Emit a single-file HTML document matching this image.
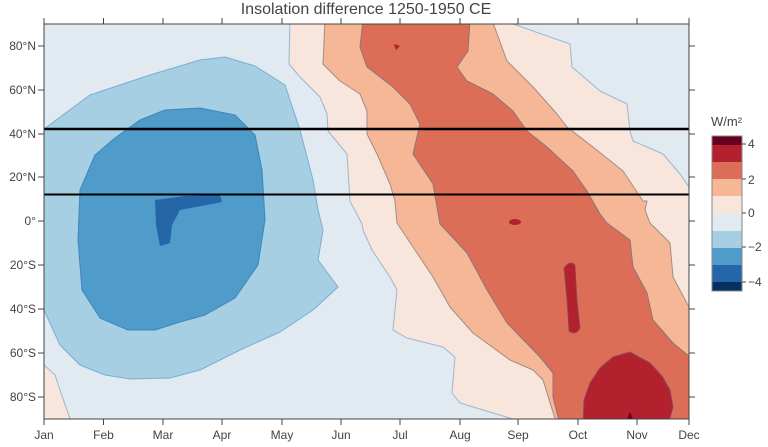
<!DOCTYPE html>
<html><head><meta charset="utf-8"><style>
body{margin:0;background:#fff;}
svg{display:block;font-family:"Liberation Sans",sans-serif;}
</style></head><body>
<svg width="768" height="447" viewBox="0 0 768 447">
<defs><clipPath id="c"><rect x="44" y="24" width="645" height="395"/></clipPath></defs>
<text x="366" y="14" text-anchor="middle" font-size="16" fill="#444">Insolation difference 1250-1950 CE</text>
<g clip-path="url(#c)" stroke-linejoin="round">
<rect x="44" y="24" width="645" height="395" fill="#e1e9f1"/>
<!-- bottom-left pink -->
<path d="M44,365 L55,375 L60,390 L70,419 L40,419 Z" fill="#f8e6dc" stroke="#9ab7cf" stroke-width="1"/>
<!-- light blue -->
<path d="M40,132 L90,95 L150,75 L200,60 L225,57 L255,66 L285,85 L300,130 L313,180 L318,210 L323,230 L318,260 L338,287 L313,310 L280,332 L240,350 L200,370 L170,378 L130,379 L105,375 L80,365 L60,345 L44,310 L40,310 Z" fill="#a7cfe3" stroke="#7aaed0" stroke-width="1"/>
<!-- medium blue -->
<path d="M80,190 L95,155 L115,138 L140,120 L165,110 L200,108 L235,115 L255,135 L262,170 L265,220 L258,265 L235,298 L205,315 L180,322 L155,330 L128,330 L100,318 L82,290 L78,240 Z" fill="#4f9bca" stroke="#3f86bb" stroke-width="1"/>
<!-- dark blue -->
<path d="M155,200 L185,196 L220,195 L222,202 L180,210 L172,225 L170,243 L160,246 L156,225 Z" fill="#2466a8"/>
<!-- pink region -->
<path d="M290,20 L289,64 L300,77 L320,97 L327,114 L328,131 L347,154 L350,201 L362,224 L363,230 L372,250 L390,277 L397,290 L393,330 L407,338 L443,347 L455,357 L452,393 L460,403 L513,419 L695,425 L695,187 L689,187 L680,174 L663,154 L633,141 L630,131 L627,104 L600,91 L572,67 L570,44 L513,24 L510,20 Z" fill="#f8e6dc" stroke="#9ab7cf" stroke-width="1"/>
<!-- salmon -->
<path d="M325,20 L323,64 L340,81 L360,94 L367,111 L367,134 L377,154 L390,184 L395,201 L397,223 L413,247 L433,277 L450,307 L473,333 L510,360 L533,370 L543,380 L557,425 L695,425 L695,307 L689,307 L673,277 L670,243 L650,223 L645,210 L647,201 L643,201 L623,171 L593,147 L567,127 L557,114 L533,87 L507,61 L492,20 Z" fill="#f5b796" stroke="#a08c8a" stroke-width="1"/>
<!-- red -->
<path d="M363,20 L360,47 L367,67 L393,87 L410,104 L420,124 L413,154 L433,184 L440,224 L443,227 L467,253 L487,290 L507,323 L540,357 L553,373 L553,397 L560,425 L695,425 L695,357 L690,357 L673,343 L653,320 L647,293 L633,267 L630,240 L607,223 L597,210 L600,214 L587,191 L573,171 L547,147 L527,131 L513,111 L493,94 L467,81 L457,67 L468,51 L470,20 Z" fill="#dc6e57" stroke="#8e7476" stroke-width="1"/>
<!-- dark red blobs -->
<path d="M583,425 L584,400 L590,383 L600,368 L613,357 L630,352 L650,363 L662,376 L670,390 L673,407 L668,425 Z" fill="#b3212f" stroke="#8a4a5a" stroke-width="1"/>
<path d="M627,419 L630,412 L633,419 Z" fill="#67001f"/>
<path d="M564,268 Q570,260 575,265 L577,300 L580,328 Q576,336 569,331 L567,300 Z" fill="#b3212f" stroke="#8a4a5a" stroke-width="0.8"/>
<ellipse cx="515" cy="222" rx="6" ry="3" fill="#b3212f"/>
<path d="M394,44 L400,46 L396,50 Z" fill="#b3212f"/>
</g>
<line x1="44" y1="129" x2="689" y2="129" stroke="#000" stroke-width="2.5"/>
<line x1="44" y1="194.5" x2="689" y2="194.5" stroke="#000" stroke-width="2"/>
<g stroke="#444" stroke-width="1" fill="none">
<rect x="44" y="24" width="645" height="395"/>
<path d="M44,419v6M103.5,419v6M163,419v6M222,419v6M282,419v6M341,419v6M400,419v6M460,419v6M518,419v6M578,419v6M637,419v6M689,419v6
M44,24v-6M103.5,24v-6M163,24v-6M222,24v-6M282,24v-6M341,24v-6M400,24v-6M460,24v-6M518,24v-6M578,24v-6M637,24v-6M689,24v-6
M44,46h-6M44,90h-6M44,134h-6M44,177h-6M44,221h-6M44,265h-6M44,309h-6M44,353h-6M44,397h-6
M689,46h6M689,90h6M689,134h6M689,177h6M689,221h6M689,265h6M689,309h6M689,353h6M689,397h6"/>
</g>
<g font-size="12" fill="#444" text-anchor="end">
<text x="36" y="50">80°N</text><text x="36" y="94">60°N</text><text x="36" y="138">40°N</text><text x="36" y="181">20°N</text><text x="36" y="225">0°</text><text x="36" y="269">20°S</text><text x="36" y="313">40°S</text><text x="36" y="357">60°S</text><text x="36" y="401">80°S</text>
</g>
<g font-size="12" fill="#444" text-anchor="middle">
<text x="44" y="439">Jan</text><text x="103.5" y="439">Feb</text><text x="163" y="439">Mar</text><text x="222" y="439">Apr</text><text x="282" y="439">May</text><text x="341" y="439">Jun</text><text x="400" y="439">Jul</text><text x="460" y="439">Aug</text><text x="518" y="439">Sep</text><text x="578" y="439">Oct</text><text x="637" y="439">Nov</text><text x="689" y="439">Dec</text>
</g>
<text x="711" y="126" font-size="13" fill="#444">W/m²</text>
<g>
<rect x="712" y="136" width="30" height="9" fill="#67001f"/>
<rect x="712" y="145" width="30" height="17" fill="#b3212f"/>
<rect x="712" y="162" width="30" height="17" fill="#dc6e57"/>
<rect x="712" y="179" width="30" height="17" fill="#f5b796"/>
<rect x="712" y="196" width="30" height="18" fill="#f8e6dc"/>
<rect x="712" y="214" width="30" height="17" fill="#e1e9f1"/>
<rect x="712" y="231" width="30" height="17" fill="#a7cfe3"/>
<rect x="712" y="248" width="30" height="17" fill="#4f9bca"/>
<rect x="712" y="265" width="30" height="17" fill="#2466a8"/>
<rect x="712" y="282" width="30" height="9" fill="#053061"/>
<rect x="712" y="136" width="30" height="155" fill="none" stroke="#888" stroke-width="1"/>
<path d="M742,144h4M742,179h4M742,213h4M742,247h4M742,282h4" stroke="#444"/>
</g>
<g font-size="12" fill="#444">
<text x="748" y="148">4</text><text x="748" y="184">2</text><text x="748" y="217">0</text><text x="748" y="251">−2</text><text x="748" y="286">−4</text>
</g>
</svg>
</body></html>
